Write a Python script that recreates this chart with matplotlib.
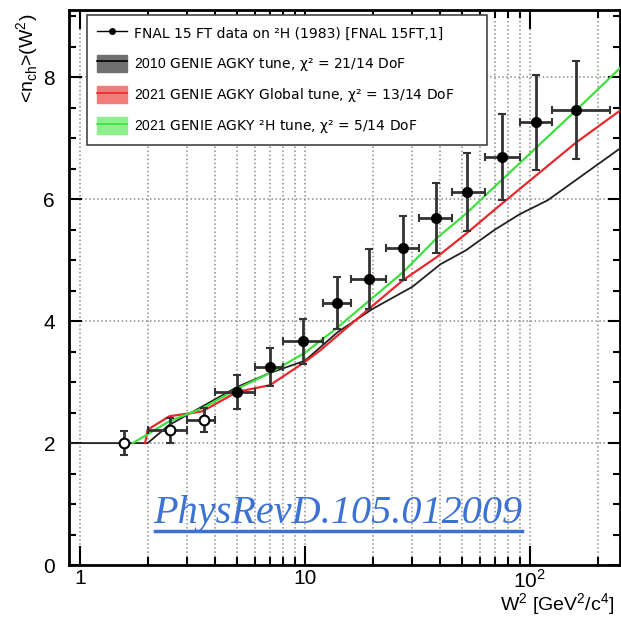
import matplotlib
matplotlib.use("Agg")
import matplotlib.pyplot as plt
from matplotlib.lines import Line2D
from matplotlib.patches import Patch
from matplotlib.ticker import FixedLocator, FixedFormatter, MultipleLocator

plt.rcParams["mathtext.fontset"] = "custom"
plt.rcParams["mathtext.rm"] = "Liberation Sans"
plt.rcParams["mathtext.it"] = "DejaVu Sans:italic"

# data points (FNAL 15 FT, deuterium)
w2 = [1.57, 2.51, 3.55, 5.0, 7.0, 9.8, 13.9, 19.3, 27.3, 38.4, 52.4, 75.0, 107.0, 161.0]
nch = [2.00, 2.21, 2.38, 2.84, 3.25, 3.67, 4.30, 4.69, 5.20, 5.69, 6.12, 6.69, 7.26, 7.46]
nch_err = [0.20, 0.20, 0.20, 0.28, 0.31, 0.37, 0.43, 0.49, 0.53, 0.58, 0.64, 0.70, 0.78, 0.80]
bin_lo = [1.57, 2.0, 3.0, 4.0, 6.0, 8.0, 12.0, 16.0, 23.0, 32.0, 45.0, 63.0, 90.0, 126.0]
bin_hi = [1.57, 3.0, 4.0, 6.0, 8.0, 12.0, 16.0, 23.0, 32.0, 45.0, 63.0, 90.0, 126.0, 226.0]
n_open = 3  # first points drawn as open markers

# model curves
w2_2010 = [0.89, 2.0, 2.5, 3.5, 5.0, 7.0, 10.0, 14.0, 20.0, 30.0, 40.0, 52.0, 70.0, 90.0, 120.0, 254.0]
nch_2010 = [2.0, 2.0, 2.3, 2.6, 2.92, 3.15, 3.35, 3.82, 4.2, 4.56, 4.93, 5.16, 5.5, 5.75, 5.98, 6.84]
w2_glob = [1.95, 2.0, 2.5, 3.5, 5.0, 7.0, 10.0, 11.7, 19.4, 27.3, 38.6, 52.4, 71.0, 161.0, 254.0]
nch_glob = [2.0, 2.22, 2.44, 2.52, 2.84, 2.95, 3.33, 3.52, 4.21, 4.67, 5.05, 5.44, 5.85, 6.93, 7.46]
w2_d2 = [1.72, 2.5, 3.5, 5.0, 7.0, 10.0, 13.9, 19.4, 27.3, 38.6, 52.4, 71.0, 161.0, 254.0]
nch_d2 = [2.0, 2.36, 2.57, 2.89, 3.15, 3.48, 3.89, 4.34, 4.80, 5.36, 5.77, 6.23, 7.46, 8.16]

fig = plt.figure(figsize=(6.21, 6.19), dpi=100)
ax = fig.add_axes([0.111, 0.087, 0.887, 0.897])
ax.set_xscale("log")
ax.set_xlim(0.894, 251)
ax.set_ylim(0, 9.1)

# grid
ax.grid(True, which="both", axis="x", color="#8c8c8c", linestyle=":", linewidth=1.1)
ax.grid(True, which="major", axis="y", color="#8c8c8c", linestyle=":", linewidth=1.1)
ax.set_axisbelow(True)

ax.plot(w2_2010, nch_2010, color="#222222", lw=1.3, zorder=3)
ax.plot(w2_glob, nch_glob, color="#e8282c", lw=1.6, zorder=3)
ax.plot(w2_d2, nch_d2, color="#3ee03e", lw=1.6, zorder=3)

xlo = [w - b for w, b in zip(w2, bin_lo)]
xhi = [b - w for w, b in zip(w2, bin_hi)]
ax.errorbar(w2[n_open:], nch[n_open:], yerr=nch_err[n_open:],
            xerr=[xlo[n_open:], xhi[n_open:]], fmt="o", color="black",
            ecolor="#333333", elinewidth=2, capsize=3, capthick=1.5,
            markersize=7, zorder=4)
ax.errorbar(w2[:n_open], nch[:n_open], yerr=nch_err[:n_open],
            xerr=[xlo[:n_open], xhi[:n_open]], fmt="o", mfc="white", mec="black",
            mew=1.5, ecolor="#333333", elinewidth=2, capsize=3, capthick=1.5,
            markersize=7, zorder=4)

# ticks
ax.xaxis.set_major_locator(FixedLocator([1, 10, 100]))
ax.xaxis.set_major_formatter(FixedFormatter(["1", "10", "10$^2$"]))
ax.xaxis.set_minor_locator(FixedLocator([2, 3, 4, 5, 6, 7, 8, 9, 20, 30, 40, 50, 60, 70, 80, 90, 200]))
ax.xaxis.set_minor_formatter(FixedFormatter([]))
ax.yaxis.set_major_locator(MultipleLocator(2))
ax.yaxis.set_minor_locator(MultipleLocator(0.5))
ax.tick_params(axis="both", which="both", direction="in", top=True, right=True, width=1.5)
ax.tick_params(axis="x", which="major", length=14, pad=3)
ax.tick_params(axis="x", which="minor", length=6)
ax.tick_params(axis="y", which="major", length=9, pad=10)
ax.tick_params(axis="y", which="minor", length=5)
for lab in ax.get_xticklabels() + ax.get_yticklabels():
    lab.set_fontfamily("Liberation Sans")
    lab.set_fontsize(15)
for sp in ax.spines.values():
    sp.set_linewidth(2)

ax.set_xlabel("W$^2$ [GeV$^2$/c$^4$]", fontfamily="Liberation Sans", fontsize=14)
ax.xaxis.set_label_coords(0.99, -0.048)
ax.xaxis.label.set_horizontalalignment("right")
fig.text(28 / 621, 1 - 14 / 619, "<n$_\\mathrm{ch}$>(W$^2$)", rotation=90, va="top", ha="center",
         fontfamily="Liberation Sans", fontsize=14)

# legend
handles = [
    Line2D([], [], color="black", lw=1, marker="o", markersize=4),
    (Patch(color="#707070"), Line2D([], [], color="black", lw=1.2)),
    (Patch(color="#f27c7c"), Line2D([], [], color="#e8282c", lw=1.2)),
    (Patch(color="#8df08d"), Line2D([], [], color="#3ee03e", lw=1.2)),
]
labels = [
    "FNAL 15 FT data on ²H (1983) [FNAL 15FT,1]",
    r"$\it{2010}$ GENIE AGKY tune, χ² = 21/14 DoF",
    r"$\it{2021}$ GENIE AGKY Global tune, χ² = 13/14 DoF",
    r"$\it{2021}$ GENIE AGKY ²H tune, χ² = 5/14 DoF",
]
leg = ax.legend(handles, labels, loc="upper left", bbox_to_anchor=(0.0327, 0.757, 0.726, 0.234),
                mode="expand", borderaxespad=0, prop={"family": "DejaVu Sans", "size": 10},
                handlelength=2.2, handleheight=1.5, handletextpad=0.5, labelspacing=0.95,
                borderpad=0.7, fancybox=False, framealpha=1, edgecolor="#444444")
leg.get_frame().set_linewidth(1.2)
leg.set_zorder(6)

# watermark
fig.text(338 / 621, 1 - 513 / 619, "PhysRevD.105.012009", ha="center", va="center",
         fontfamily="Liberation Serif", style="italic", fontsize=29, color="#3b72d4", zorder=10)
fig.add_artist(Line2D([155 / 621, 522 / 621], [1 - 531 / 619, 1 - 531 / 619],
                      color="#3b72d4", lw=2.5, zorder=10))

fig.savefig("out.png", dpi=100)
